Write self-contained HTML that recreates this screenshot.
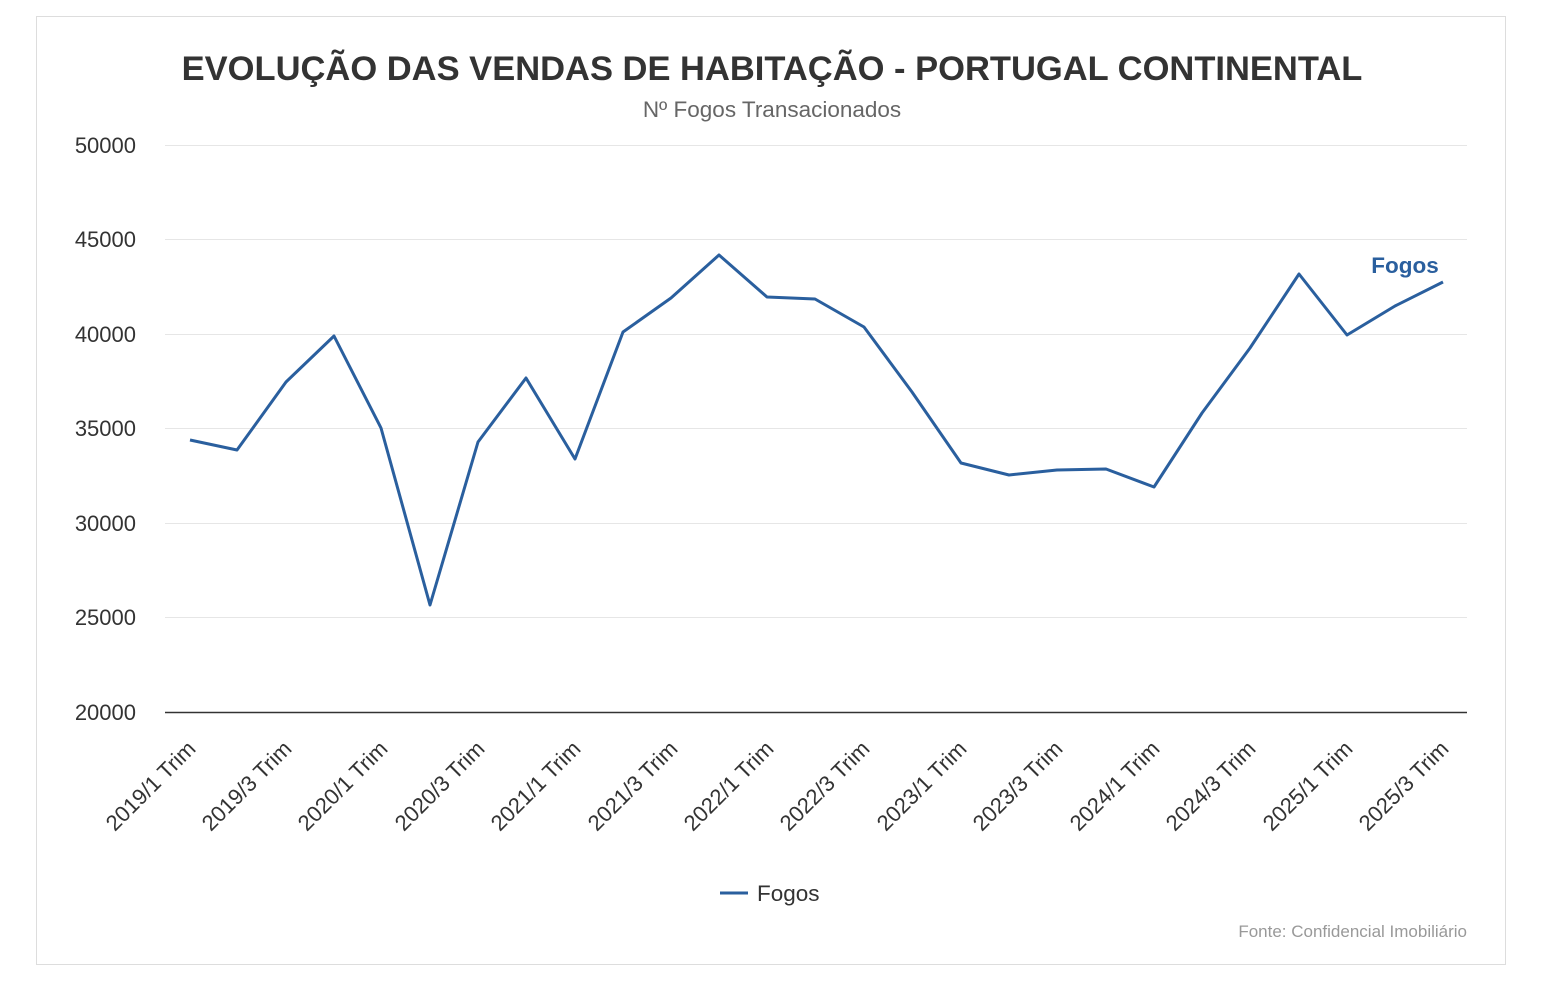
<!DOCTYPE html>
<html><head><meta charset="utf-8"><style>
body{margin:0;background:#fff;}
svg{display:block;font-family:"Liberation Sans",Arial,sans-serif;}
</style></head><body>
<svg width="1558" height="1002" viewBox="0 0 1558 1002">
<rect x="36.5" y="16.5" width="1469" height="948" fill="#fff" stroke="#ddd"/>
<text x="772" y="80" text-anchor="middle" font-size="34.5" font-weight="bold" fill="#333">EVOLUÇÃO DAS VENDAS DE HABITAÇÃO - PORTUGAL CONTINENTAL</text>
<text x="772" y="117" text-anchor="middle" font-size="22.5" fill="#666">Nº Fogos Transacionados</text>
<g stroke="#e6e6e6" stroke-width="1">
<line x1="165" x2="1467" y1="145.5" y2="145.5"/>
<line x1="165" x2="1467" y1="239.5" y2="239.5"/>
<line x1="165" x2="1467" y1="334.5" y2="334.5"/>
<line x1="165" x2="1467" y1="428.5" y2="428.5"/>
<line x1="165" x2="1467" y1="523.5" y2="523.5"/>
<line x1="165" x2="1467" y1="617.5" y2="617.5"/>
</g>
<line x1="165" x2="1467" y1="712.5" y2="712.5" stroke="#333" stroke-width="1.5"/>
<g font-size="22" fill="#333" text-anchor="end">
<text x="136" y="153">50000</text>
<text x="136" y="247">45000</text>
<text x="136" y="342">40000</text>
<text x="136" y="436">35000</text>
<text x="136" y="531">30000</text>
<text x="136" y="625">25000</text>
<text x="136" y="720">20000</text>
</g>
<g font-size="22" fill="#333" text-anchor="end">
<text transform="translate(197,750) rotate(-45)">2019/1 Trim</text>
<text transform="translate(293,750) rotate(-45)">2019/3 Trim</text>
<text transform="translate(389,750) rotate(-45)">2020/1 Trim</text>
<text transform="translate(486,750) rotate(-45)">2020/3 Trim</text>
<text transform="translate(582,750) rotate(-45)">2021/1 Trim</text>
<text transform="translate(679,750) rotate(-45)">2021/3 Trim</text>
<text transform="translate(775,750) rotate(-45)">2022/1 Trim</text>
<text transform="translate(871,750) rotate(-45)">2022/3 Trim</text>
<text transform="translate(968,750) rotate(-45)">2023/1 Trim</text>
<text transform="translate(1064,750) rotate(-45)">2023/3 Trim</text>
<text transform="translate(1161,750) rotate(-45)">2024/1 Trim</text>
<text transform="translate(1257,750) rotate(-45)">2024/3 Trim</text>
<text transform="translate(1354,750) rotate(-45)">2025/1 Trim</text>
<text transform="translate(1450,750) rotate(-45)">2025/3 Trim</text>
</g>
<polyline fill="none" stroke="#2a5f9e" stroke-width="3" stroke-linejoin="round" points="190,440 237,450 286,382 334,336 381,428 430,605 478,442 526,378 575,459 623,332 671,298 719,255 767,297 815,299 864,327 912,392 961,463 1009,475 1057,470 1106,469 1154,487 1202,413 1250,348 1299,274 1347,335 1395,306 1443,282"/>
<text x="1405" y="273" text-anchor="middle" font-size="22.5" font-weight="bold" fill="#2a5f9e">Fogos</text>
<line x1="720" x2="748" y1="893" y2="893" stroke="#2a5f9e" stroke-width="3"/>
<text x="757" y="901" font-size="22.5" fill="#333">Fogos</text>
<text x="1467" y="937" text-anchor="end" font-size="17" fill="#999">Fonte: Confidencial Imobiliário</text>
</svg>
</body></html>
